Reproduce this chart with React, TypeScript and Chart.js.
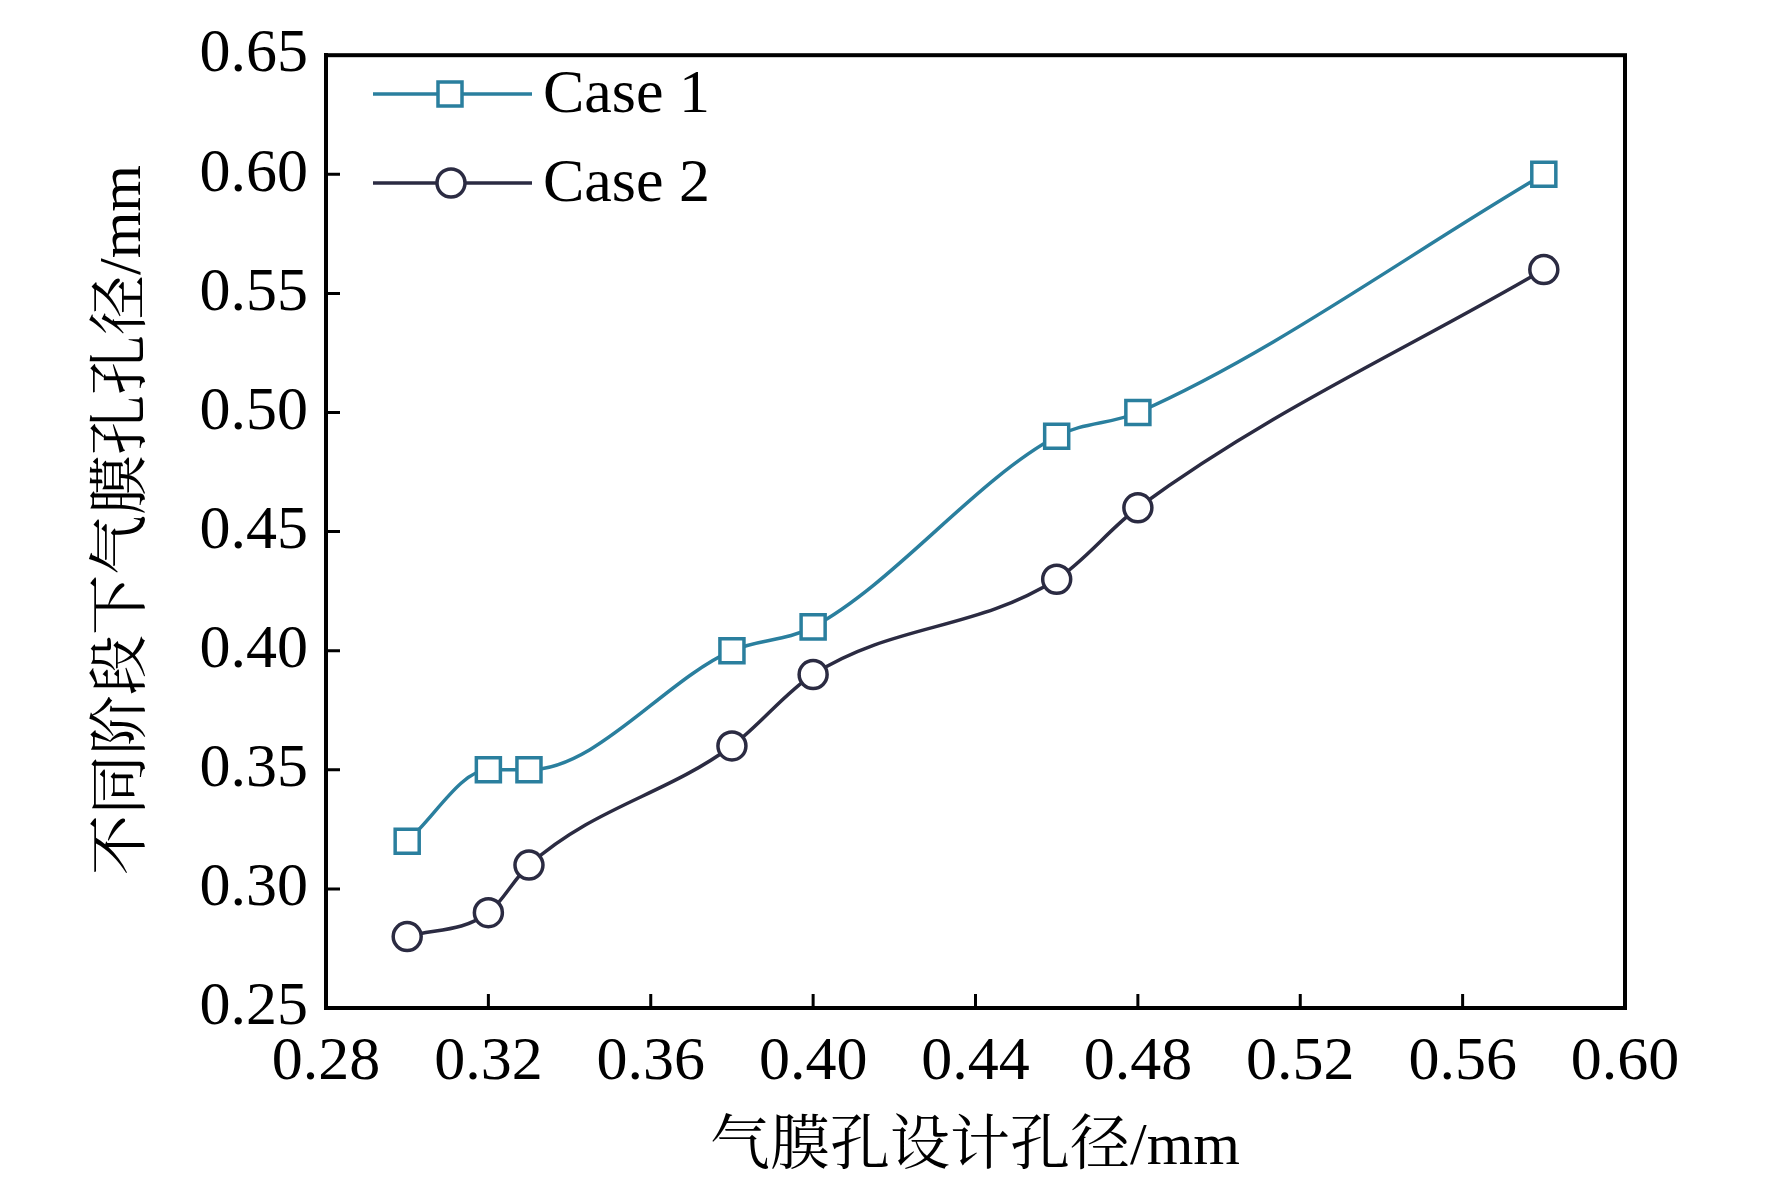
import React, { useEffect, useRef } from "react";
import { Chart, registerables } from "chart.js";
Chart.register(...registerables);

const xValues = [0.30, 0.32, 0.33, 0.38, 0.40, 0.46, 0.48, 0.58];
const case1 = [0.32, 0.35, 0.35, 0.40, 0.41, 0.49, 0.50, 0.60];
const case2 = [0.28, 0.29, 0.31, 0.36, 0.39, 0.43, 0.46, 0.56];
const seriesNames = ["Case 1", "Case 2"];
const colors = ["#2a7f9e", "#2b2b42"];
const xTitle = "气膜孔设计孔径/mm";
const yTitle = "不同阶段下气膜孔孔径/mm";
const F = "'Liberation Serif', 'Noto Serif CJK SC', 'Noto Sans CJK SC', serif";

export default function App() {
  const ref = useRef<HTMLCanvasElement>(null);
  useEffect(() => {
    const legendPlugin = {
      id: "inLegend",
      afterDraw(chart: any) {
        const ctx = chart.ctx;
        const items = [
          { name: seriesNames[0], color: colors[0], style: "rect", y: 94 },
          { name: seriesNames[1], color: colors[1], style: "circle", y: 183 },
        ];
        ctx.save();
        for (const it of items) {
          ctx.strokeStyle = it.color;
          ctx.lineWidth = 3.5;
          ctx.beginPath();
          ctx.moveTo(373, it.y);
          ctx.lineTo(532, it.y);
          ctx.stroke();
          ctx.fillStyle = "#fff";
          ctx.beginPath();
          if (it.style === "rect") ctx.rect(438, it.y - 12, 24, 24);
          else ctx.arc(451, it.y, 14, 0, Math.PI * 2);
          ctx.fill();
          ctx.stroke();
          ctx.fillStyle = "#000";
          ctx.font = `62px ${F}`;
          ctx.textBaseline = "middle";
          ctx.fillText(it.name, 543, it.y + 2);
        }
        // titles
        ctx.font = `60px ${F}`;
        ctx.textAlign = "center";
        ctx.textBaseline = "middle";
        ctx.fillText(xTitle, 975, 1148);
        ctx.translate(124, 520);
        ctx.rotate(-Math.PI / 2);
        ctx.fillText(yTitle, 0, 0);
        ctx.restore();
      },
    };
    const mk = (d: number[]) => xValues.map((x, i) => ({ x, y: d[i] }));
    const chart = new Chart(ref.current!, {
      type: "line",
      data: {
        datasets: [
          { label: seriesNames[0], data: mk(case1), borderColor: colors[0], backgroundColor: "#fff", pointStyle: "rect", pointRadius: 17, pointBorderWidth: 3.5, borderWidth: 3.5, cubicInterpolationMode: "monotone" },
          { label: seriesNames[1], data: mk(case2), borderColor: colors[1], backgroundColor: "#fff", pointStyle: "circle", pointRadius: 14, pointBorderWidth: 3.5, borderWidth: 3.5, cubicInterpolationMode: "monotone" },
        ],
      },
      options: {
        animation: false,
        responsive: false,
        layout: { padding: { left: 0, right: 147, top: 20, bottom: 0 } },
        plugins: { legend: { display: false }, tooltip: { enabled: false } },
        scales: {
          x: {
            type: "linear", min: 0.28, max: 0.60,
            border: { color: "#000", width: 4 },
            grid: { display: false, drawOnChartArea: false, tickLength: 0 },
            ticks: { stepSize: 0.04, color: "#000", font: { family: F, size: 62 }, padding: 18, callback: (v: any) => Number(v).toFixed(2) },
            afterFit: (s: any) => { s.height = 183; },
          },
          y: {
            min: 0.25, max: 0.65,
            border: { color: "#000", width: 4 },
            grid: { display: false, tickLength: 0 },
            ticks: { stepSize: 0.05, color: "#000", font: { family: F, size: 62 }, padding: 18, callback: (v: any) => Number(v).toFixed(2) },
            afterFit: (s: any) => { s.width = 326; },
          },
        },
      },
      plugins: [
        legendPlugin,
        {
          id: "frame",
          afterDraw(chart: any) {
            const { ctx, chartArea: a, scales } = chart;
            ctx.save();
            ctx.strokeStyle = "#000";
            ctx.lineWidth = 4;
            ctx.strokeRect(a.left, a.top, a.right - a.left, a.bottom - a.top);
            ctx.lineWidth = 3;
            ctx.beginPath();
            for (let v = 0.32; v < 0.595; v += 0.04) {
              const x = scales.x.getPixelForValue(v);
              ctx.moveTo(x, a.bottom); ctx.lineTo(x, a.bottom - 14);
            }
            for (let v = 0.30; v < 0.645; v += 0.05) {
              const y = scales.y.getPixelForValue(v);
              ctx.moveTo(a.left, y); ctx.lineTo(a.left + 14, y);
            }
            ctx.stroke();
            ctx.restore();
          },
        },
      ],
    } as any);
    return () => chart.destroy();
  }, []);
  return (
    <div style={{ position: "fixed", left: 0, top: 0, width: 1772, height: 1191, background: "#fff" }}>
      <canvas ref={ref} width={1772} height={1191} style={{ width: 1772, height: 1191 }} />
    </div>
  );
}
